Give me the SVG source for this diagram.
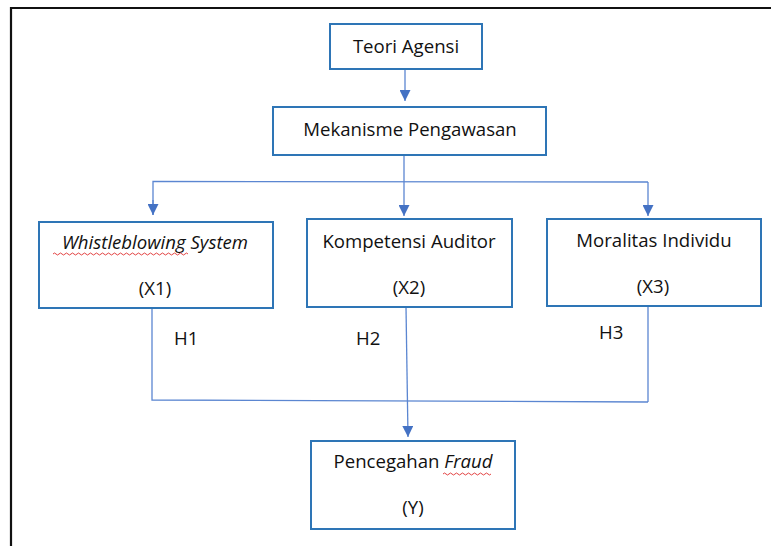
<svg xmlns="http://www.w3.org/2000/svg" width="771" height="546" viewBox="0 0 771 546">
<style>
.box{fill:#fff;stroke:#2E75B6;stroke-width:2}
.t{font-family:"Open Sans","Liberation Sans",sans-serif;font-size:18.6px;fill:#111;text-anchor:middle}
.h{text-anchor:start}
.c{fill:none;stroke:#5B86D1;stroke-width:1.3}
.sq{fill:none;stroke:#E03030;stroke-width:0.9}
</style>
<defs>
<marker id="ah" markerWidth="11" markerHeight="11" refX="11" refY="5.5" orient="auto" markerUnits="userSpaceOnUse">
<path d="M0,0 L11,5.5 L0,11 Z" fill="#4472C4"/>
</marker>
</defs>
<rect x="0" y="0" width="771" height="546" fill="#fff"/>
<path d="M11,546 L11,8 L771,8" fill="none" stroke="#111" stroke-width="2.2"/>
<g id="connectors">
<line class="c" x1="405" y1="69" x2="405" y2="101" marker-end="url(#ah)"/>
<line class="c" x1="404" y1="155" x2="404" y2="182"/>
<polyline class="c" points="153,215 153,181.5 648,182"/>
<line class="c" x1="153" y1="200" x2="153" y2="215" marker-end="url(#ah)"/>
<line class="c" x1="404" y1="182" x2="404" y2="216" marker-end="url(#ah)"/>
<line class="c" x1="648" y1="182" x2="648" y2="216" marker-end="url(#ah)"/>
<polyline class="c" points="152,308 152,400 648,402"/>
<line class="c" x1="648" y1="306" x2="648" y2="402"/>
<line class="c" x1="406" y1="307" x2="408" y2="437" marker-end="url(#ah)"/>
</g>
<g id="teori">
<rect class="box" x="330" y="24" width="152" height="45"/>
<text class="t" x="406" y="53">Teori Agensi</text>
</g>
<g id="mekanisme">
<rect class="box" x="273" y="107" width="273" height="48"/>
<text class="t" x="410" y="136">Mekanisme Pengawasan</text>
</g>
<g id="x1">
<rect class="box" x="39" y="222" width="234" height="86"/>
<text class="t" x="155" y="249"><tspan font-style="italic">Whistleblowing System</tspan></text>
<path class="sq" d="M53,254 q1.5,-2 3,0 t3,0 t3,0 t3,0 t3,0 t3,0 t3,0 t3,0 t3,0 t3,0 t3,0 t3,0 t3,0 t3,0 t3,0 t3,0 t3,0 t3,0 t3,0 t3,0 t3,0 t3,0 t3,0 t3,0 t3,0 t3,0 t3,0 t3,0 t3,0 t3,0 t3,0 t3,0 t3,0 t3,0 t3,0 t3,0 t3,0 t3,0 t3,0 t3,0 t3,0 t3,0 t3,0 t3,0 t3,0"/>
<text class="t" x="155" y="295">(X1)</text>
</g>
<g id="x2">
<rect class="box" x="307" y="219" width="205" height="88"/>
<text class="t" x="409" y="248">Kompetensi Auditor</text>
<text class="t" x="409" y="294">(X2)</text>
</g>
<g id="x3">
<rect class="box" x="547" y="219" width="214" height="87"/>
<text class="t" x="654" y="247">Moralitas Individu</text>
<text class="t" x="653" y="293">(X3)</text>
</g>
<g id="labels">
<text class="t h" x="174" y="345">H1</text>
<text class="t h" x="356" y="345">H2</text>
<text class="t h" x="599" y="339">H3</text>
</g>
<g id="y">
<rect class="box" x="311" y="441" width="204" height="88"/>
<text class="t" x="413" y="468">Pencegahan <tspan font-style="italic">Fraud</tspan></text>
<path class="sq" d="M443,474 q1.5,-2 3,0 t3,0 t3,0 t3,0 t3,0 t3,0 t3,0 t3,0 t3,0 t3,0 t3,0 t3,0 t3,0 t3,0 t3,0 t3,0"/>
<text class="t" x="413" y="514">(Y)</text>
</g>
</svg>
